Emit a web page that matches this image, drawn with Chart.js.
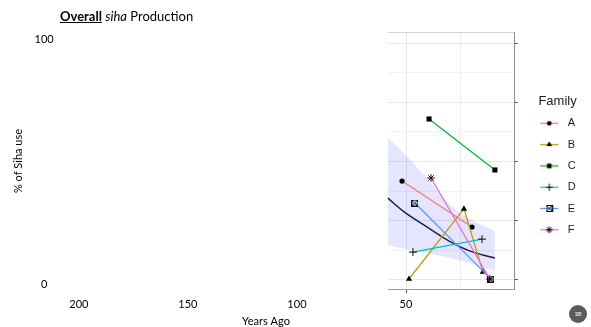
<!DOCTYPE html>
<html><head><meta charset="utf-8">
<script src="https://cdn.jsdelivr.net/npm/chart.js@4.4.1/dist/chart.umd.min.js"></script>
<style>
html,body{margin:0;padding:0;background:#fff;}
#wrap{position:relative;width:591px;height:327px;overflow:hidden;background:#fff;}
canvas{position:absolute;left:0;top:0;}
#title{position:absolute;left:60px;top:8px;font:13px Lato, sans-serif;line-height:16px;color:#000;white-space:nowrap;}
#title b{text-decoration:underline;}
#page{position:absolute;left:569px;top:305px;width:18px;height:18px;border-radius:50%;background:#5b5b5b;color:#fff;font:6px 'Liberation Sans',sans-serif;line-height:18px;text-align:center;}
</style></head><body>
<div id="wrap">
<canvas id="c" width="591" height="327"></canvas>
<div id="title"><b>Overall</b> <i>siha</i> Production</div>
<div id="page">38</div>
</div>
<script>
// ---------- data ----------
const families = ['A', 'B', 'C', 'D', 'E', 'F'];
const yearsA = [51.8, 19.7];        const pctA = [41.5, 22.0];
const yearsB = [48.6, 23.4, 14.7];  const pctB = [0.0, 29.7, 3.0];
const yearsC = [39.4, 9.2];         const pctC = [67.8, 46.2];
const yearsD = [46.8, 15.1];        const pctD = [11.4, 16.9];
const yearsE = [45.9, 11.0];        const pctE = [32.2, 0.0];
const yearsF = [38.5, 11.5];        const pctF = [42.8, 0.0];
const smoothYears = [58.3, 50.5, 39.9, 29.8, 20.6, 9.2];
const smoothFit   = [34.3, 28.2, 21.8, 15.8, 11.8, 8.9];
const bandUpper   = [59.7, 52.8, 42.2, 31.5, 25.4, 20.3];
const bandLower   = [14.3, 12.8, 11.0, 8.9, 6.7, 3.4];
const xTickValues = [200, 150, 100, 50];
const yTickValues = [0, 100];
const panelYMajor = [0, 25, 50, 75, 100];
const panelYMinor = [12.5, 37.5, 62.5, 87.5];
const panelXMajor = [50];
const panelXMinor = [25];

// ---------- styles ----------
const familyColors = ['#F8766D', '#B79F00', '#00BA38', '#00BFC4', '#619CFF', '#F564E3'];
const PANEL_FROM_YEARS = 58.3;
const X_MAX = 228.4;

function boxCross() {
  const c = document.createElement('canvas'); c.width = 7; c.height = 7;
  const g = c.getContext('2d');
  g.strokeStyle = '#111'; g.lineWidth = 1;
  g.strokeRect(0.5, 0.5, 6, 6);
  g.beginPath(); g.moveTo(0.5, 0.5); g.lineTo(6.5, 6.5); g.moveTo(6.5, 0.5); g.lineTo(0.5, 6.5); g.stroke();
  return c;
}
const boxX = boxCross();
const markerStyles = ['circle', 'triangle', 'rect', 'cross', boxX, 'star'];
const markerRadius = [2.6, 3.6, 3.6, 4, 3.5, 3.8];
const markerBorder = [0, 0, 0, 1, 0, 1];

function legendIcon(i) {
  const c = document.createElement('canvas'); c.width = 37; c.height = 9;
  const g = c.getContext('2d');
  g.strokeStyle = familyColors[i]; g.lineWidth = 1.3;
  g.beginPath(); g.moveTo(15, 4.5); g.lineTo(33, 4.5); g.stroke();
  g.fillStyle = '#000'; g.strokeStyle = '#000'; g.lineWidth = 1;
  if (typeof markerStyles[i] === 'object') {
    g.drawImage(markerStyles[i], 24 - 3.5, 1);
  } else {
    Chart.helpers.drawPoint(g, {pointStyle: markerStyles[i], radius: markerRadius[i] * 0.9, borderWidth: markerBorder[i], rotation: 0}, 24, 4.5);
  }
  return c;
}
const legendIcons = families.map((f, i) => legendIcon(i));

const famYears = [yearsA, yearsB, yearsC, yearsD, yearsE, yearsF];
const famPct = [pctA, pctB, pctC, pctD, pctE, pctF];
const pts = (xs, ys) => xs.map((x, i) => ({x: x, y: ys[i]}));

const datasets = families.map((f, i) => ({
  label: f,
  data: pts(famYears[i], famPct[i]),
  yAxisID: 'yd',
  borderColor: familyColors[i],
  borderWidth: 1.3,
  pointStyle: markerStyles[i],
  pointRadius: markerRadius[i],
  pointBackgroundColor: '#000',
  pointBorderColor: '#111',
  pointBorderWidth: markerBorder[i],
  fill: false,
  tension: 0,
  order: 6 - i
}));
datasets.push({
  label: 'fit', data: pts(smoothYears, smoothFit), yAxisID: 'yd',
  borderColor: '#1d1d44', borderWidth: 1.5, pointRadius: 0, fill: false,
  tension: 0.4, order: 10
});
datasets.push({
  label: 'upper', data: pts(smoothYears, bandUpper), yAxisID: 'yd',
  borderWidth: 0, borderColor: 'rgba(0,0,0,0)', pointRadius: 0,
  backgroundColor: 'rgba(0,0,255,0.1)', fill: '+1',
  tension: 0.4, order: 20
});
datasets.push({
  label: 'lower', data: pts(smoothYears, bandLower), yAxisID: 'yd',
  borderWidth: 0, borderColor: 'rgba(0,0,0,0)', pointRadius: 0, fill: false,
  tension: 0.4, order: 21
});

const panelPlugin = {
  id: 'panel',
  beforeDatasetsDraw(chart) {
    const {ctx, chartArea: a, scales} = chart;
    const x = scales.x, yd = scales.yd;
    const L = x.getPixelForValue(PANEL_FROM_YEARS), R = a.right, T = a.top, B = a.bottom;
    ctx.save();
    const hl = (y, color, w, x0, x1) => { ctx.strokeStyle = color; ctx.lineWidth = w; ctx.beginPath(); ctx.moveTo(x0, y); ctx.lineTo(x1, y); ctx.stroke(); };
    const vl = (xx, color, w, y0, y1) => { ctx.strokeStyle = color; ctx.lineWidth = w; ctx.beginPath(); ctx.moveTo(xx, y0); ctx.lineTo(xx, y1); ctx.stroke(); };
    panelYMinor.forEach(v => hl(Math.round(yd.getPixelForValue(v)) + 0.5, '#f3f3f3', 1, L, R));
    panelXMinor.forEach(v => vl(Math.round(x.getPixelForValue(v)) + 0.5, '#efefef', 1, T, B));
    panelYMajor.forEach(v => hl(Math.round(yd.getPixelForValue(v)) + 0.5, '#e8e8e8', 1, L, R));
    panelXMajor.forEach(v => vl(Math.round(x.getPixelForValue(v)) + 0.5, '#e8e8e8', 1, T, B));
    hl(Math.round(T) + 0.5, '#d6d6d6', 1, L, R);
    hl(Math.round(B) - 0.5, '#9a9a9a', 1, L, R);
    vl(Math.round(R) - 0.5, '#8a8a8a', 1, T, B);
    panelYMajor.forEach(v => hl(Math.round(yd.getPixelForValue(v)) + 0.5, '#555', 1, R, R + 3));
    panelXMajor.forEach(v => vl(Math.round(x.getPixelForValue(v)) + 0.5, '#555', 1, B, B + 3));
    ctx.restore();
  }
};

new Chart(document.getElementById('c'), {
  type: 'line',
  data: {datasets: datasets},
  options: {
    responsive: false, animation: false, devicePixelRatio: 1,
    layout: {padding: {top: 32, left: 0, right: 5.3, bottom: 0}},
    plugins: {
      tooltip: {enabled: false},
      legend: {
        position: 'right', align: 'start',
        title: {display: true, text: '\u00a0\u00a0\u00a0\u00a0Family', color: '#1a1a1a',
                font: {family: "'Liberation Sans', Arial, sans-serif", size: 13, lineHeight: 1},
                padding: {top: 63.2, bottom: -0.7}},
        labels: {
          usePointStyle: true, pointStyleWidth: 37, padding: 10.3, color: '#1a1a1a',
          font: {family: "'Liberation Sans', Arial, sans-serif", size: 11},
          generateLabels: () => families.map((f, i) => ({
            text: f, pointStyle: legendIcons[i], datasetIndex: i, hidden: false,
            fillStyle: 'rgba(0,0,0,0)', strokeStyle: 'rgba(0,0,0,0)', lineWidth: 0, fontColor: '#1a1a1a'
          }))
        },
        onClick: () => {}
      }
    },
    scales: {
      x: {
        type: 'linear', reverse: true, min: 0, max: X_MAX,
        grid: {display: false, drawTicks: false}, border: {display: false},
        afterBuildTicks: s => { s.ticks = xTickValues.map(v => ({value: v})); },
        afterFit: s => { s.height = 37; },
        ticks: {padding: 7.4, color: '#000', font: {family: 'Lato, sans-serif', size: 11}, maxRotation: 0, callback: v => String(v)},
        title: {display: true, text: 'Years Ago', color: '#000', font: {family: 'Lato, sans-serif', size: 11, lineHeight: 1}, padding: {top: 0, bottom: 0.5}}
      },
      y: {
        type: 'linear', position: 'left', min: -2.45, max: 102.86,
        grid: {display: false, drawTicks: false}, border: {display: false},
        afterBuildTicks: s => { s.ticks = yTickValues.map(v => ({value: v})); },
        afterFit: s => { s.width = 17; },
        ticks: {mirror: true, crossAlign: 'center', padding: 17.5, color: '#000', font: {family: 'Lato, sans-serif', size: 11}, callback: v => String(v)},
        title: {display: true, text: '% of Siha use', color: '#000', font: {family: 'Lato, sans-serif', size: 11}, padding: {top: 11.4, bottom: 0}}
      },
      yd: {
        type: 'linear', position: 'left', display: false, min: -4.66, max: 104.66
      }
    }
  },
  plugins: [panelPlugin]
});
</script>
</body></html>
